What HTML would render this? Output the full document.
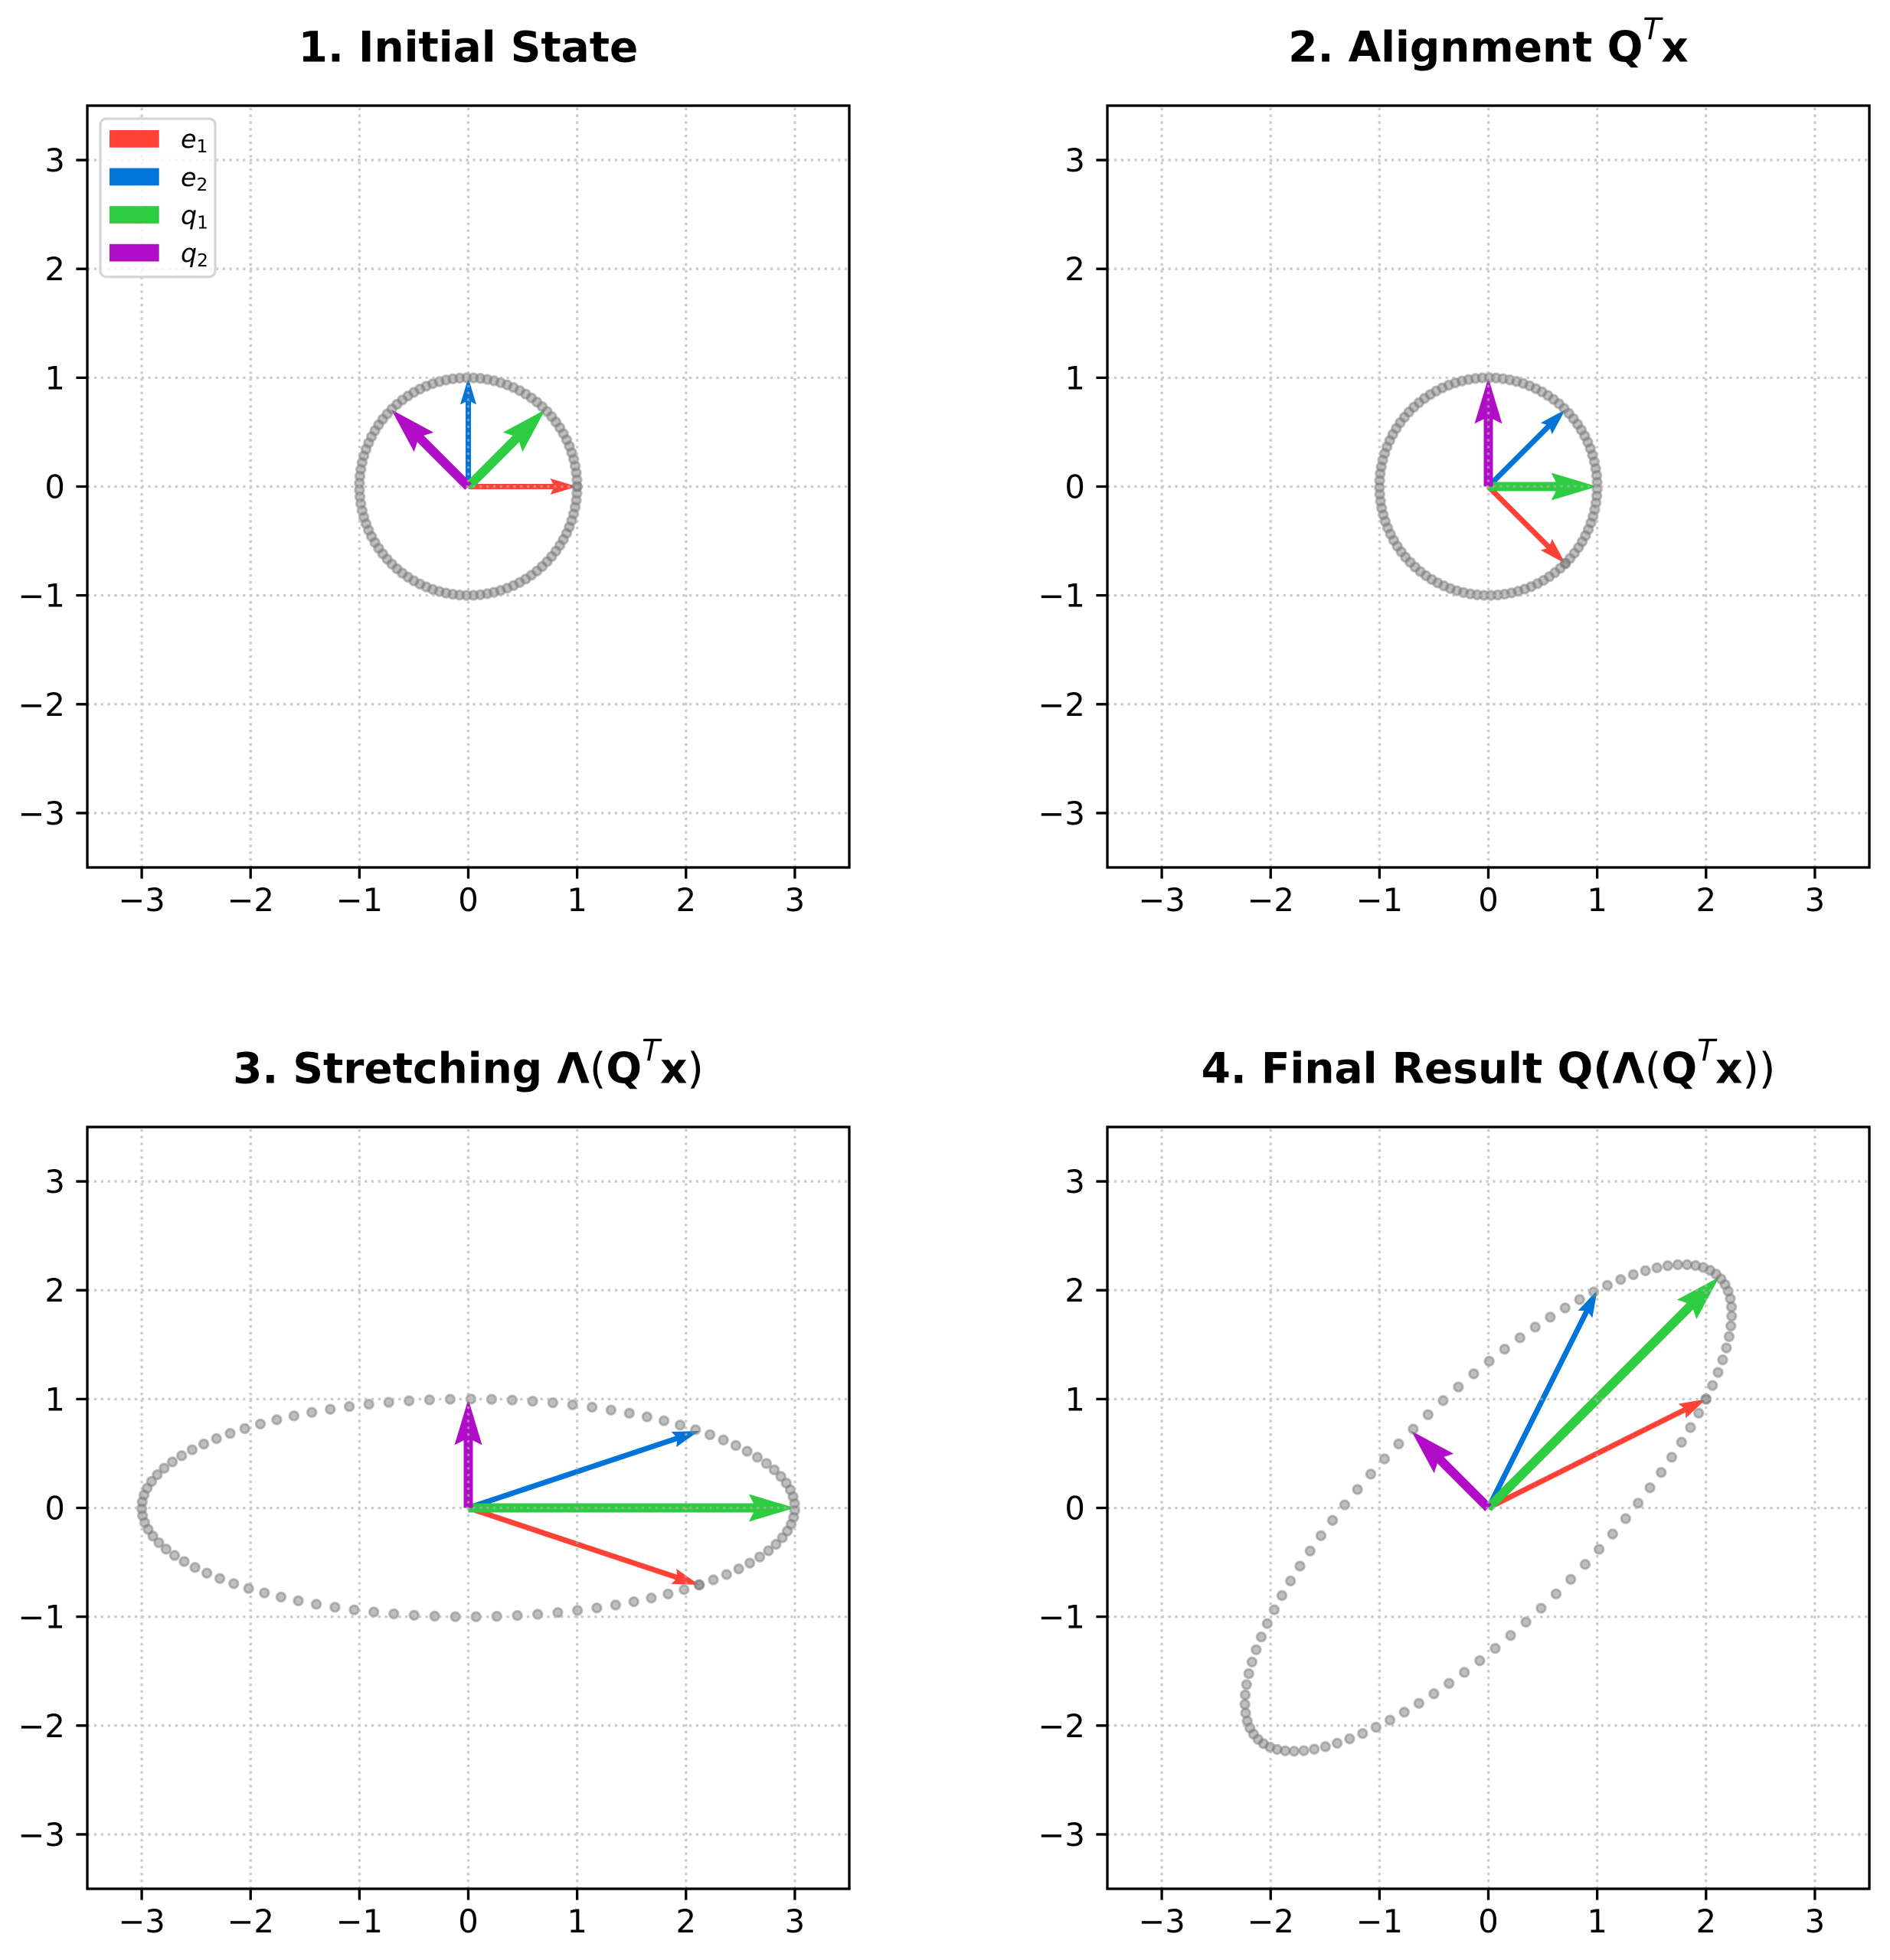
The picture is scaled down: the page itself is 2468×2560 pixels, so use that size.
<!DOCTYPE html>
<html><head><meta charset="utf-8"><style>
html,body{margin:0;padding:0;background:#fff;}
svg{display:block;}
text{font-family:"DejaVu Sans","Liberation Sans",sans-serif;fill:#000;}
</style></head><body>
<svg xmlns="http://www.w3.org/2000/svg" width="2468" height="2560" viewBox="0 0 2468 2560">
<rect x="0" y="0" width="2468" height="2560" fill="#fff"/>
<defs>
<circle id="dot" r="0.0401" fill="#808080" fill-opacity="0.5" stroke="#808080" stroke-opacity="0.5" stroke-width="0.0211" style="transform:var(--mi)"/>
<polygon id="at1" points="0,-3.5 110.64,-3.5 107.14,-10.5 142.14,0 107.14,10.5 110.64,3.5 0,3.5"/>
<polygon id="at2" points="0,-3.5 286.34,-3.5 282.84,-10.5 317.84,0 282.84,10.5 286.34,3.5 0,3.5"/>
<polygon id="ak1" points="0,-6 88.14,-6 82.14,-18 142.14,0 82.14,18 88.14,6 0,6"/>
<polygon id="ak3" points="0,-6 372.42,-6 366.42,-18 426.42,0 366.42,18 372.42,6 0,6"/>
<path id="grid" fill="none" stroke="#b0b0b0" stroke-opacity="0.65" stroke-width="3.33" stroke-dasharray="3.33 5.5" d="M71.08 995V0M213.22 995V0M355.36 995V0M497.5 995V0M639.64 995V0M781.78 995V0M923.92 995V0M0 71.08H995M0 213.22H995M0 355.36H995M0 497.5H995M0 639.64H995M0 781.78H995M0 923.92H995"/>
<g id="frame">
<rect x="0" y="0" width="995" height="995" fill="none" stroke="#000" stroke-width="3.33"/>
<path fill="none" stroke="#000" stroke-width="3.33" d="M71.08 995v14.58M213.22 995v14.58M355.36 995v14.58M497.5 995v14.58M639.64 995v14.58M781.78 995v14.58M923.92 995v14.58M-14.58 71.08h14.58M-14.58 213.22h14.58M-14.58 355.36h14.58M-14.58 497.5h14.58M-14.58 639.64h14.58M-14.58 781.78h14.58M-14.58 923.92h14.58"/>
<g font-size="41.67" text-anchor="middle">
<text x="71.08" y="1052">−3</text><text x="213.22" y="1052">−2</text><text x="355.36" y="1052">−1</text><text x="497.5" y="1052">0</text><text x="639.64" y="1052">1</text><text x="781.78" y="1052">2</text><text x="923.92" y="1052">3</text>
</g>
<g font-size="41.67" text-anchor="end">
<text x="-29.17" y="86.08">3</text><text x="-29.17" y="228.22">2</text><text x="-29.17" y="370.36">1</text><text x="-29.17" y="512.5">0</text><text x="-29.17" y="654.64">−1</text><text x="-29.17" y="796.78">−2</text><text x="-29.17" y="938.92">−3</text>
</g>
</g>
<g id="ring">
<use href="#dot" transform="rotate(0)translate(1)rotate(0)"/><use href="#dot" transform="rotate(3.636)translate(1)rotate(-3.636)"/><use href="#dot" transform="rotate(7.273)translate(1)rotate(-7.273)"/><use href="#dot" transform="rotate(10.909)translate(1)rotate(-10.909)"/><use href="#dot" transform="rotate(14.545)translate(1)rotate(-14.545)"/>
<use href="#dot" transform="rotate(18.182)translate(1)rotate(-18.182)"/><use href="#dot" transform="rotate(21.818)translate(1)rotate(-21.818)"/><use href="#dot" transform="rotate(25.455)translate(1)rotate(-25.455)"/><use href="#dot" transform="rotate(29.091)translate(1)rotate(-29.091)"/><use href="#dot" transform="rotate(32.727)translate(1)rotate(-32.727)"/>
<use href="#dot" transform="rotate(36.364)translate(1)rotate(-36.364)"/><use href="#dot" transform="rotate(40)translate(1)rotate(-40)"/><use href="#dot" transform="rotate(43.636)translate(1)rotate(-43.636)"/><use href="#dot" transform="rotate(47.273)translate(1)rotate(-47.273)"/><use href="#dot" transform="rotate(50.909)translate(1)rotate(-50.909)"/>
<use href="#dot" transform="rotate(54.545)translate(1)rotate(-54.545)"/><use href="#dot" transform="rotate(58.182)translate(1)rotate(-58.182)"/><use href="#dot" transform="rotate(61.818)translate(1)rotate(-61.818)"/><use href="#dot" transform="rotate(65.455)translate(1)rotate(-65.455)"/><use href="#dot" transform="rotate(69.091)translate(1)rotate(-69.091)"/>
<use href="#dot" transform="rotate(72.727)translate(1)rotate(-72.727)"/><use href="#dot" transform="rotate(76.364)translate(1)rotate(-76.364)"/><use href="#dot" transform="rotate(80)translate(1)rotate(-80)"/><use href="#dot" transform="rotate(83.636)translate(1)rotate(-83.636)"/><use href="#dot" transform="rotate(87.273)translate(1)rotate(-87.273)"/>
<use href="#dot" transform="rotate(90.909)translate(1)rotate(-90.909)"/><use href="#dot" transform="rotate(94.545)translate(1)rotate(-94.545)"/><use href="#dot" transform="rotate(98.182)translate(1)rotate(-98.182)"/><use href="#dot" transform="rotate(101.818)translate(1)rotate(-101.818)"/><use href="#dot" transform="rotate(105.455)translate(1)rotate(-105.455)"/>
<use href="#dot" transform="rotate(109.091)translate(1)rotate(-109.091)"/><use href="#dot" transform="rotate(112.727)translate(1)rotate(-112.727)"/><use href="#dot" transform="rotate(116.364)translate(1)rotate(-116.364)"/><use href="#dot" transform="rotate(120)translate(1)rotate(-120)"/><use href="#dot" transform="rotate(123.636)translate(1)rotate(-123.636)"/>
<use href="#dot" transform="rotate(127.273)translate(1)rotate(-127.273)"/><use href="#dot" transform="rotate(130.909)translate(1)rotate(-130.909)"/><use href="#dot" transform="rotate(134.545)translate(1)rotate(-134.545)"/><use href="#dot" transform="rotate(138.182)translate(1)rotate(-138.182)"/><use href="#dot" transform="rotate(141.818)translate(1)rotate(-141.818)"/>
<use href="#dot" transform="rotate(145.455)translate(1)rotate(-145.455)"/><use href="#dot" transform="rotate(149.091)translate(1)rotate(-149.091)"/><use href="#dot" transform="rotate(152.727)translate(1)rotate(-152.727)"/><use href="#dot" transform="rotate(156.364)translate(1)rotate(-156.364)"/><use href="#dot" transform="rotate(160)translate(1)rotate(-160)"/>
<use href="#dot" transform="rotate(163.636)translate(1)rotate(-163.636)"/><use href="#dot" transform="rotate(167.273)translate(1)rotate(-167.273)"/><use href="#dot" transform="rotate(170.909)translate(1)rotate(-170.909)"/><use href="#dot" transform="rotate(174.545)translate(1)rotate(-174.545)"/><use href="#dot" transform="rotate(178.182)translate(1)rotate(-178.182)"/>
<use href="#dot" transform="rotate(181.818)translate(1)rotate(-181.818)"/><use href="#dot" transform="rotate(185.455)translate(1)rotate(-185.455)"/><use href="#dot" transform="rotate(189.091)translate(1)rotate(-189.091)"/><use href="#dot" transform="rotate(192.727)translate(1)rotate(-192.727)"/><use href="#dot" transform="rotate(196.364)translate(1)rotate(-196.364)"/>
<use href="#dot" transform="rotate(200)translate(1)rotate(-200)"/><use href="#dot" transform="rotate(203.636)translate(1)rotate(-203.636)"/><use href="#dot" transform="rotate(207.273)translate(1)rotate(-207.273)"/><use href="#dot" transform="rotate(210.909)translate(1)rotate(-210.909)"/><use href="#dot" transform="rotate(214.545)translate(1)rotate(-214.545)"/>
<use href="#dot" transform="rotate(218.182)translate(1)rotate(-218.182)"/><use href="#dot" transform="rotate(221.818)translate(1)rotate(-221.818)"/><use href="#dot" transform="rotate(225.455)translate(1)rotate(-225.455)"/><use href="#dot" transform="rotate(229.091)translate(1)rotate(-229.091)"/><use href="#dot" transform="rotate(232.727)translate(1)rotate(-232.727)"/>
<use href="#dot" transform="rotate(236.364)translate(1)rotate(-236.364)"/><use href="#dot" transform="rotate(240)translate(1)rotate(-240)"/><use href="#dot" transform="rotate(243.636)translate(1)rotate(-243.636)"/><use href="#dot" transform="rotate(247.273)translate(1)rotate(-247.273)"/><use href="#dot" transform="rotate(250.909)translate(1)rotate(-250.909)"/>
<use href="#dot" transform="rotate(254.545)translate(1)rotate(-254.545)"/><use href="#dot" transform="rotate(258.182)translate(1)rotate(-258.182)"/><use href="#dot" transform="rotate(261.818)translate(1)rotate(-261.818)"/><use href="#dot" transform="rotate(265.455)translate(1)rotate(-265.455)"/><use href="#dot" transform="rotate(269.091)translate(1)rotate(-269.091)"/>
<use href="#dot" transform="rotate(272.727)translate(1)rotate(-272.727)"/><use href="#dot" transform="rotate(276.364)translate(1)rotate(-276.364)"/><use href="#dot" transform="rotate(280)translate(1)rotate(-280)"/><use href="#dot" transform="rotate(283.636)translate(1)rotate(-283.636)"/><use href="#dot" transform="rotate(287.273)translate(1)rotate(-287.273)"/>
<use href="#dot" transform="rotate(290.909)translate(1)rotate(-290.909)"/><use href="#dot" transform="rotate(294.545)translate(1)rotate(-294.545)"/><use href="#dot" transform="rotate(298.182)translate(1)rotate(-298.182)"/><use href="#dot" transform="rotate(301.818)translate(1)rotate(-301.818)"/><use href="#dot" transform="rotate(305.455)translate(1)rotate(-305.455)"/>
<use href="#dot" transform="rotate(309.091)translate(1)rotate(-309.091)"/><use href="#dot" transform="rotate(312.727)translate(1)rotate(-312.727)"/><use href="#dot" transform="rotate(316.364)translate(1)rotate(-316.364)"/><use href="#dot" transform="rotate(320)translate(1)rotate(-320)"/><use href="#dot" transform="rotate(323.636)translate(1)rotate(-323.636)"/>
<use href="#dot" transform="rotate(327.273)translate(1)rotate(-327.273)"/><use href="#dot" transform="rotate(330.909)translate(1)rotate(-330.909)"/><use href="#dot" transform="rotate(334.545)translate(1)rotate(-334.545)"/><use href="#dot" transform="rotate(338.182)translate(1)rotate(-338.182)"/><use href="#dot" transform="rotate(341.818)translate(1)rotate(-341.818)"/>
<use href="#dot" transform="rotate(345.455)translate(1)rotate(-345.455)"/><use href="#dot" transform="rotate(349.091)translate(1)rotate(-349.091)"/><use href="#dot" transform="rotate(352.727)translate(1)rotate(-352.727)"/><use href="#dot" transform="rotate(356.364)translate(1)rotate(-356.364)"/><use href="#dot" transform="rotate(360)translate(1)rotate(-360)"/>
</g>
</defs>

<text x="611.5" y="80.5" text-anchor="middle" font-weight="bold" font-size="55">1. Initial State</text>
<text x="1943.5" y="80.5" text-anchor="middle" font-weight="bold" font-size="55">2. Alignment Q<tspan font-style="italic" font-weight="normal" font-size="39" dy="-29">T</tspan><tspan dy="29">x</tspan></text>
<text x="611.5" y="1414.5" text-anchor="middle" font-weight="bold" font-size="55">3. Stretching Λ<tspan font-weight="normal">(</tspan>Q<tspan font-style="italic" font-weight="normal" font-size="39" dy="-29">T</tspan><tspan dy="29">x</tspan><tspan font-weight="normal">)</tspan></text>
<text x="1943.5" y="1414.5" text-anchor="middle" font-weight="bold" font-size="55">4. Final Result Q(Λ<tspan font-weight="normal">(</tspan>Q<tspan font-style="italic" font-weight="normal" font-size="39" dy="-29">T</tspan><tspan dy="29">x</tspan><tspan font-weight="normal">))</tspan></text>

<g transform="translate(114 138)">
<g transform="translate(497.5 497.5)">
<use href="#at1" fill="#FF4136"/>
<use href="#at1" fill="#0074D9" transform="rotate(-90)"/>
<use href="#ak1" fill="#2ECC40" transform="rotate(-45)"/>
<use href="#ak1" fill="#B10DC9" transform="rotate(-135)"/>
</g>
<g transform="translate(497.5 497.5) scale(142.14 -142.14)"><use href="#ring"/></g>
<use href="#grid"/>
<use href="#frame"/>
<rect x="17" y="17" width="150" height="206.6" rx="8" ry="8" fill="#fff" fill-opacity="0.8" stroke="#d6d6d6" stroke-width="3.33"/>
<rect x="29" y="32" width="64.7" height="22.7" fill="#FF4136"/>
<rect x="29" y="81.6" width="64.7" height="22.7" fill="#0074D9"/>
<rect x="29" y="131.2" width="64.7" height="22.7" fill="#2ECC40"/>
<rect x="29" y="180.8" width="64.7" height="22.7" fill="#B10DC9"/>
<text x="122" y="55.2" font-style="italic" font-size="33.3">e<tspan font-style="normal" font-size="23.3" dy="6">1</tspan></text>
<text x="122" y="104.8" font-style="italic" font-size="33.3">e<tspan font-style="normal" font-size="23.3" dy="6">2</tspan></text>
<text x="122" y="154.4" font-style="italic" font-size="33.3">q<tspan font-style="normal" font-size="23.3" dy="6">1</tspan></text>
<text x="122" y="204" font-style="italic" font-size="33.3">q<tspan font-style="normal" font-size="23.3" dy="6">2</tspan></text>
</g>

<g transform="translate(1446 138)">
<g transform="translate(497.5 497.5)">
<use href="#at1" fill="#FF4136" transform="rotate(45)"/>
<use href="#at1" fill="#0074D9" transform="rotate(-45)"/>
<use href="#ak1" fill="#2ECC40"/>
<use href="#ak1" fill="#B10DC9" transform="rotate(-90)"/>
</g>
<g transform="translate(497.5 497.5) scale(142.14 -142.14) rotate(-45)"><use href="#ring"/></g>
<use href="#grid"/>
<use href="#frame"/>
</g>

<g transform="translate(114 1472)">
<g transform="translate(497.5 497.5)">
<use href="#at2" fill="#FF4136" transform="rotate(18.435)"/>
<use href="#at2" fill="#0074D9" transform="rotate(-18.435)"/>
<use href="#ak3" fill="#2ECC40"/>
<use href="#ak1" fill="#B10DC9" transform="rotate(-90)"/>
</g>
<g style="--mi:matrix(0.2357,0.2357,-0.70711,0.70711,0,0)" transform="translate(497.5 497.5) scale(142.14 -142.14) matrix(2.12132,-0.70711,2.12132,0.70711,0,0)"><use href="#ring"/></g>
<use href="#grid"/>
<use href="#frame"/>
</g>

<g transform="translate(1446 1472)">
<g transform="translate(497.5 497.5)">
<use href="#at2" fill="#FF4136" transform="rotate(-26.565)"/>
<use href="#at2" fill="#0074D9" transform="rotate(-63.435)"/>
<use href="#ak3" fill="#2ECC40" transform="rotate(-45)"/>
<use href="#ak1" fill="#B10DC9" transform="rotate(-135)"/>
</g>
<g style="--mi:matrix(0.66667,-0.33333,-0.33333,0.66667,0,0)" transform="translate(497.5 497.5) scale(142.14 -142.14) matrix(2,1,1,2,0,0)"><use href="#ring"/></g>
<use href="#grid"/>
<use href="#frame"/>
</g>
</svg>
</body></html>
